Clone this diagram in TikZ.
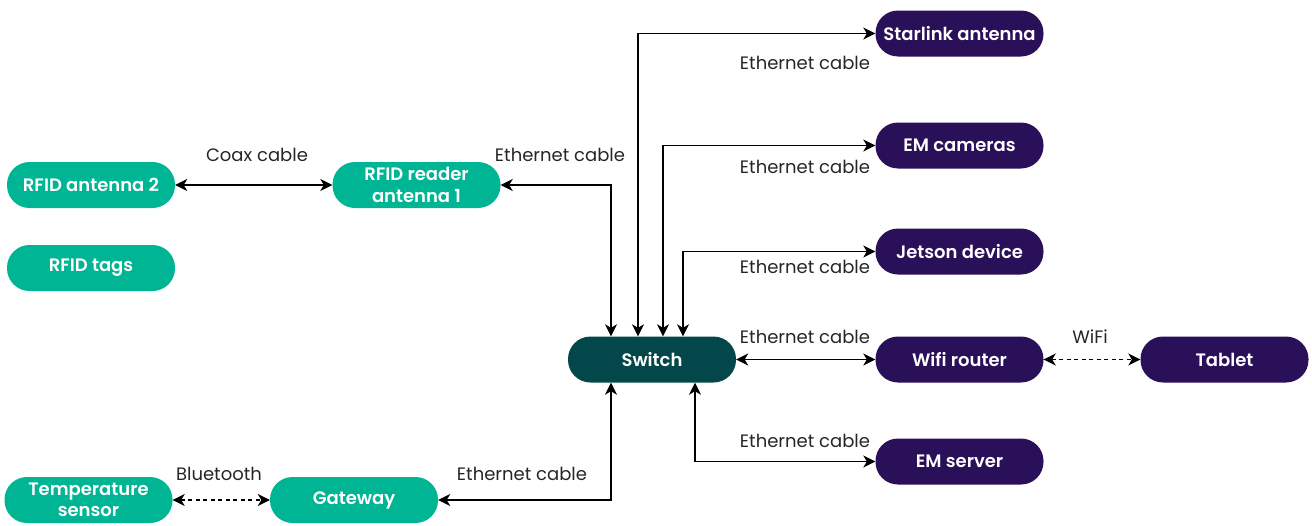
\documentclass[tikz,border=0pt]{standalone}
\usepackage{fontspec}
\setmainfont{Poppins}[BoldFont={Poppins SemiBold}]
\usetikzlibrary{arrows.meta}
\definecolor{cgreen}{HTML}{00B594}
\definecolor{cpurple}{HTML}{2A1058}
\definecolor{cswitch}{HTML}{03474A}
\tikzset{
  box/.style={rectangle, rounded corners=22.5pt, minimum width=168pt, minimum height=46pt, inner sep=0pt,
    text=white, align=center, font=\fontsize{18}{21.5}\selectfont\bfseries},
  gbox/.style={box, fill=cgreen},
  pbox/.style={box, fill=cpurple},
  sbox/.style={box, fill=cswitch},
  conn/.style={draw=black, line width=1.4pt, {Stealth[length=12pt,width=12pt,inset=3.5pt]}-{Stealth[length=12pt,width=12pt,inset=3.5pt]}},
  dconn/.style={conn, dash pattern=on 4pt off 3.5pt},
  lbl/.style={font=\fontsize{18}{21}\selectfont, text=black!85, inner sep=0pt}
}
\begin{document}
\begin{tikzpicture}[x=1pt,y=-1pt]
\useasboundingbox (0,0) rectangle (1312,525);
% nodes
\node[gbox] (ant2) at (91,185) {RFID antenna 2};
\node[gbox] (tags) at (91,268) {RFID tags};
\node[gbox] (reader) at (416.5,185) {RFID reader\\antenna 1};
\node[gbox] (temp) at (88.5,500) {Temperature\\sensor};
\node[gbox] (gw) at (354,500) {Gateway};
\node[sbox] (sw) at (652,359.5) {Switch};
\node[pbox] (star) at (959.5,33.5) {Starlink antenna};
\node[pbox] (cam) at (959.5,145.5) {EM cameras};
\node[pbox] (jet) at (959.5,251.5) {Jetson device};
\node[pbox] (wifi) at (959.5,359.5) {Wifi router};
\node[pbox] (srv) at (959.5,461.5) {EM server};
\node[pbox] (tab) at (1224.5,359.5) {Tablet};
% connectors
\draw[conn] (ant2.east) -- (reader.west);
\draw[conn] (reader.east) -| ([xshift=-41pt]sw.north);
\draw[conn] (star.west) -| ([xshift=-14pt]sw.north);
\draw[conn] (cam.west) -| ([xshift=11pt]sw.north);
\draw[conn] (jet.west) -| ([xshift=31pt]sw.north);
\draw[conn] (sw.east) -- (wifi.west);
\draw[conn] (srv.west) -| ([xshift=43pt]sw.south);
\draw[conn] (gw.east) -| ([xshift=-41pt]sw.south);
\draw[dconn] (temp.east) -- (gw.west);
\draw[dconn] (wifi.east) -- (tab.west);
% labels
\node[lbl] (l1) at (257,155) {Coax cable};
\node[lbl] (l2) at (560,155) {Ethernet cable};
\node[lbl] (l3) at (805,63) {Ethernet cable};
\node[lbl] (l4) at (805,167) {Ethernet cable};
\node[lbl] (l5) at (805,267) {Ethernet cable};
\node[lbl] (l6) at (805,337) {Ethernet cable};
\node[lbl] (l7) at (805,441) {Ethernet cable};
\node[lbl] (l8) at (522,474) {Ethernet cable};
\node[lbl] (l9) at (219,474) {Bluetooth};
\node[lbl] (l10) at (1090,337) {WiFi};
\end{tikzpicture}
\end{document}
